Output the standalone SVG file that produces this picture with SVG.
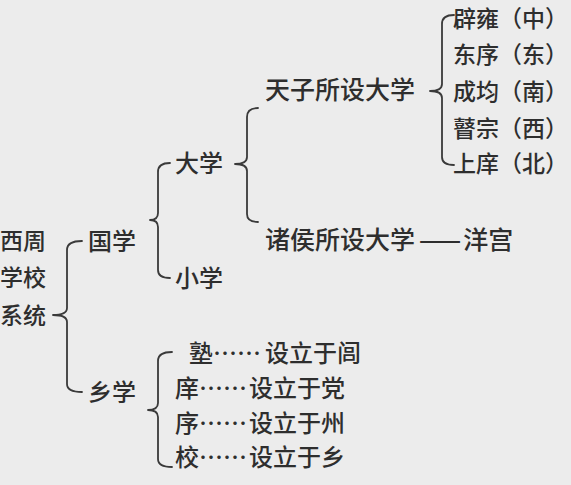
<svg xmlns="http://www.w3.org/2000/svg" width="571" height="485" viewBox="0 0 571 485">
<style>
text{font-family:"Noto Sans CJK SC","Noto Sans",sans-serif;fill:#2e2e2e;font-size:24px;font-weight:500}
.s23{font-size:23px}
.s25{font-size:25px}
.brace{fill:none;stroke:#3a3a3a;stroke-width:1.8;stroke-linecap:round;stroke-linejoin:round}
</style>
<rect width="571" height="485" fill="#ececec"/>
<g id="connectors">
<path class="brace" d="M82,241 Q67,241 67,250 L67,308 Q67,315 53,315 Q67,315 67,322 L67,384 Q67,392 82,392"/>
<path class="brace" d="M170,163 Q158,163 158,172 L158,213 Q158,220 150,220 Q158,220 158,227 L158,270 Q158,278 170,278"/>
<path class="brace" d="M258,108 Q247,108 247,117 L247,157 Q247,164 235,164 Q247,164 247,171 L247,214 Q247,222 258,222"/>
<path class="brace" d="M454,15 Q442,15 442,24 L442,84 Q442,91 430,91 Q442,91 442,98 L442,157 Q442,165 454,165"/>
<path class="brace" d="M172,352 Q158,352 158,361 L158,403 Q158,410 148,410 Q158,410 158,417 L158,459 Q158,467 172,467"/>
</g>
<g id="root"><text class="s23" x="0" y="249">西周</text><text class="s23" x="0" y="286">学校</text><text class="s23" x="0" y="324">系统</text></g>
<g id="guoxue"><text x="88" y="250">国学</text></g>
<g id="xiangxue"><text x="88" y="401">乡学</text></g>
<g id="daxue"><text x="175" y="172">大学</text></g>
<g id="xiaoxue"><text x="175" y="287">小学</text></g>
<g id="tianzi"><text class="s25" x="265" y="99">天子所设大学</text></g>
<g id="zhuhou"><text class="s25" x="265" y="249">诸侯所设大学<tspan dx="4">——</tspan><tspan dx="2">洋宫</tspan></text></g>
<g id="biyong"><text class="s23" x="453" y="27">辟雍（中）</text></g>
<g id="dongxu"><text class="s23" x="453" y="63">东序（东）</text></g>
<g id="chengjun"><text class="s23" x="453" y="100">成均（南）</text></g>
<g id="guzong"><text class="s23" x="453" y="137">瞽宗（西）</text></g>
<g id="shangxiang"><text class="s23" x="453" y="172">上庠（北）</text></g>
<g id="shu"><text x="189" y="362">塾……<tspan dx="4">设立于闾</tspan></text></g>
<g id="xiang"><text x="175" y="397">庠……<tspan dx="2">设立于党</tspan></text></g>
<g id="xu"><text x="175" y="432">序……<tspan dx="2">设立于州</tspan></text></g>
<g id="xiao"><text x="175" y="466">校……<tspan dx="2">设立于乡</tspan></text></g>
</svg>
